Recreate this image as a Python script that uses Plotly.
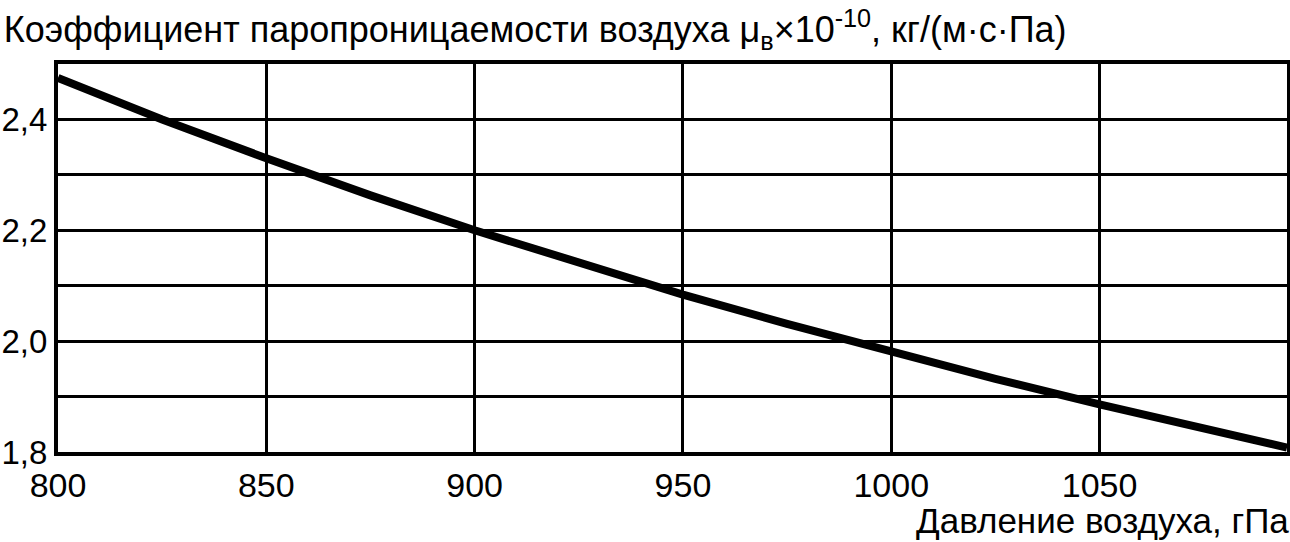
import plotly.graph_objects as go

# давление воздуха, гПа
pressure_hpa = [800, 825, 850, 875, 900, 925, 950, 975, 1000, 1025, 1050, 1075, 1095]
# коэффициент паропроницаемости воздуха, x1e-10 кг/(м·с·Па)
mu_air = [2.475, 2.40, 2.33, 2.263, 2.20, 2.141, 2.084, 2.031, 1.98, 1.932, 1.886, 1.842, 1.808]

x_ticks = [800, 850, 900, 950, 1000, 1050]
y_ticks = [1.8, 2.0, 2.2, 2.4]
y_tick_text = ["1,8", "2,0", "2,2", "2,4"]

FONT = "Liberation Sans, Arial, sans-serif"

fig = go.Figure()
fig.add_trace(go.Scatter(
    x=pressure_hpa,
    y=mu_air,
    mode="lines",
    line=dict(color="black", width=8),
    showlegend=False,
    hoverinfo="x+y",
))

fig.update_xaxes(
    range=[800, 1095],
    tickvals=x_ticks,
    automargin=False,
    showgrid=True, gridcolor="black", gridwidth=3,
    showline=True, linecolor="black", linewidth=4, mirror=True,
    zeroline=False,
    ticks="", ticklabelstandoff=0,
    tickfont=dict(size=34, color="black", family=FONT),
)
fig.update_yaxes(
    range=[1.8, 2.5],
    tickvals=y_ticks, ticktext=y_tick_text,
    automargin=False,
    showgrid=True, gridcolor="black", gridwidth=3,
    minor=dict(dtick=0.1, tick0=1.8, showgrid=True, gridcolor="black", gridwidth=3),
    showline=True, linecolor="black", linewidth=4, mirror=True,
    zeroline=False,
    ticks="", ticklabelstandoff=0,
    tickfont=dict(size=33, color="black", family=FONT),
)

fig.update_layout(
    width=1290, height=542,
    margin=dict(l=58, r=3, t=64, b=90, autoexpand=False),
    paper_bgcolor="white", plot_bgcolor="white",
    font=dict(family=FONT, color="black"),
    title=dict(
        text="Коэффициент паропроницаемости воздуха μ<sub>в</sub>×10<sup>-10</sup>, кг/(м·с·Па)",
        x=0.003, xanchor="left", xref="container",
        y=0.945, yanchor="middle", yref="container",
        font=dict(size=36, color="black", family=FONT),
    ),
    annotations=[dict(
        text="Давление воздуха, гПа",
        xref="paper", yref="paper", x=1, y=0,
        xanchor="right", yanchor="bottom", yshift=-90, xshift=4,
        showarrow=False,
        font=dict(size=35, color="black", family=FONT),
    )],
)

# the page body has a default 8px margin; drop it so the chart sits at 0,0
fig.write_html(
    "out.html",
    config={"displayModeBar": False},
    post_script="document.body.style.margin='0';",
)
